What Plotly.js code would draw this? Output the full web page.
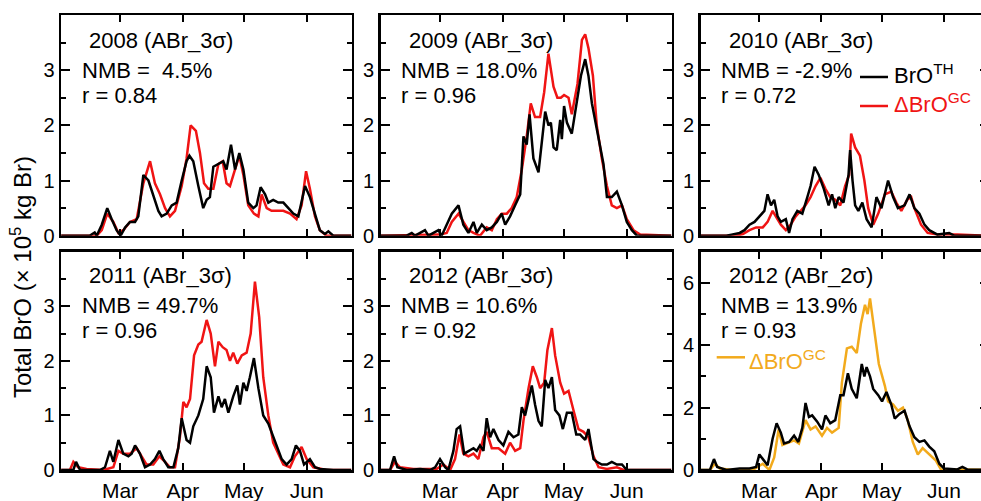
<!DOCTYPE html>
<html>
<head>
<meta charset="utf-8">
<script src="https://cdn.plot.ly/plotly-3.0.1.min.js"></script>
<style>
html,body{margin:0;padding:0;overflow:hidden;background:#fff;}
#chart{width:992px;height:501px;}
</style>
</head>
<body>
<div id="chart"></div>
<script>
// x values: day of year (Feb 1 = 32, Mar 1 = 60, Apr 1 = 91, May 1 = 121, Jun 1 = 152)
const monthLabels = ['Mar', 'Apr', 'May', 'Jun'];
const monthDoy = [60, 91, 121, 152];

// 2008 (ABr_3σ)
const x2008th = [31,45,47.5,48.5,51,53.7,55.9,58.3,60.3,62.5,64.9,67.4,69,71.5,74,76.4,78.9,80.5,83,85.5,87.9,90.4,92.8,94.2,96.1,98.6,101,102.7,104.3,106,108.5,110.9,112.5,114.7,116.7,118.8,120.8,123.2,125.7,127.3,129.3,131.5,133.1,135.5,138,140.5,143,145.4,147.9,151.2,153.6,156.1,158.5,161,162.7,165.1,174];
const y2008th = [0,0,0.06,0,0.2,0.5,0.3,0.1,0,0.15,0.25,0.25,0.35,1.1,1.0,0.75,0.45,0.35,0.4,0.55,0.6,1.0,1.35,1.45,1.35,0.9,0.5,0.65,0.7,1.25,1.3,1.35,1.2,1.65,1.2,1.5,1.2,0.6,0.5,0.55,0.88,0.75,0.6,0.65,0.6,0.6,0.5,0.4,0.35,0.9,0.7,0.4,0.1,0.03,0.08,0,0];
const x2008gc = [31,48.5,51,53.7,56.7,59.2,61.6,64.9,68.2,71.5,74.8,77.2,79.7,82.2,84.6,87.1,90.4,92.8,94.8,97.4,99.4,101.4,103.5,106,108.5,110.6,112.5,114.2,116.7,118.8,120.8,123.2,126,128.2,129.8,132.3,134.7,137.2,140.5,143.8,147,149.5,151.7,153.6,156.1,158.5,161.8,174];
const y2008gc = [0,0,0.1,0.4,0.25,0.05,0.1,0.25,0.3,0.95,1.35,0.95,0.75,0.5,0.35,0.45,0.9,1.4,2.0,1.9,1.5,0.95,0.85,0.85,1.3,1.35,0.95,0.9,1.2,1.45,1.1,0.55,0.4,0.35,0.75,0.5,0.45,0.45,0.45,0.4,0.3,0.55,1.17,0.85,0.35,0.1,0,0];

// 2009 (ABr_3σ)
const x2009th = [31,43.7,46.2,47.8,50.3,52.7,54.4,56.8,59.3,60.9,63.4,65.9,69.2,71.6,74.1,76.6,78.2,80.7,83.1,85.6,88.1,90.5,92.2,94.6,97.1,99.6,101.2,102.8,104.2,106.1,108.6,110.2,111.9,113.5,114.7,116,117.6,119.3,120.1,121.2,122.6,125,127.5,129.5,131.6,133.2,134.9,137,139,140.6,142.3,144.7,147.2,149.7,152.1,154.6,157.1,174];
const y2009th = [0,0,0.05,0,0.05,0.1,0,0.05,0.1,0,0.2,0.4,0.55,0.2,0.05,0.25,0.05,0.2,0.1,0.15,0.25,0.4,0.2,0.35,0.55,0.75,1.8,1.65,2.2,1.4,1.15,1.7,2.25,2.0,2.05,1.6,1.55,2.1,1.75,2.35,2.05,1.85,2.4,2.9,3.2,2.9,2.4,2.0,1.55,1.3,0.7,0.7,0.8,0.55,0.25,0.1,0,0];
const x2009gc = [31,60.1,63.4,65.9,69.2,71.6,74.1,76.6,79.8,83.1,85.6,88.1,90.5,93,95.4,97.9,100.4,102.8,104.8,106.9,109.4,111.4,113.5,116,117.9,119.6,121.2,123.4,125,127.8,130,131.6,133.2,135.4,137.3,139.8,142.3,144.7,147.2,149.7,152.1,155.4,158.7,174];
const y2009gc = [0,0.02,0.05,0.25,0.4,0.25,0.1,0.05,0,0.15,0.1,0.3,0.4,0.4,0.5,0.7,1.2,1.8,2.4,2.15,2.15,2.6,3.3,2.7,2.5,2.5,2.55,2.5,2.2,2.75,3.55,3.65,3.4,2.9,2.0,1.4,0.9,0.55,0.5,0.55,0.3,0.1,0.02,0];

// 2010 (ABr_3σ)
const x2010th = [31,43.7,46.2,50.3,52.7,55.2,57.7,60.1,62.6,64.2,65.9,67.5,69.2,70.8,73.3,74.9,76.6,79,81.5,84,85.6,87.6,89.7,92.2,94.6,96.3,97.9,99.6,102,104.5,105.3,106.5,107.8,109.4,111.4,113.5,116,118.4,120.9,124.2,126.7,129.1,132.4,134.9,137.3,139.8,142.3,144.7,148.8,154.6,157.1,174];
const y2010th = [0,0,0.02,0.05,0.1,0.2,0.25,0.35,0.45,0.75,0.55,0.65,0.35,0.25,0.3,0.05,0.3,0.45,0.4,0.7,0.9,1.25,1.1,0.85,0.55,0.75,0.5,0.7,0.6,1.1,1.55,1.0,0.55,0.45,0.6,0.3,0.15,0.7,0.5,1.0,0.7,0.5,0.55,0.75,0.5,0.4,0.2,0.1,0.02,0.05,0,0];
const x2010gc = [31,48.6,51.9,55.2,58.5,61.8,64.2,66.7,68.3,70.8,73.3,75.7,78.2,80.7,83.1,85.6,88.1,90.5,93,95.4,97.9,100.4,102.8,104.8,105.8,107.8,110.2,112.4,114.3,116.8,119.3,122.6,125.8,128.3,130.8,133.7,135.7,137.3,140.6,143.9,148.8,158.7,174];
const y2010gc = [0,0,0.03,0.1,0.15,0.15,0.25,0.45,0.35,0.2,0.1,0.2,0.35,0.45,0.55,0.7,0.9,1.05,0.85,0.7,0.65,0.55,0.9,1.1,1.85,1.6,1.45,1.0,0.5,0.2,0.4,0.75,0.8,0.6,0.45,0.65,0.7,0.5,0.2,0.05,0.02,0.02,0];

// 2011 (ABr_3σ)
const x2011th = [31,35.3,37,38.3,40.3,50.1,52.6,55,56.7,59.2,61.6,64.1,65.7,67.4,69.8,72.3,74.8,77.2,79.4,81.3,83.8,86.3,88.7,90.4,91.5,92.8,94.5,96.1,98.6,101,102.7,104.7,106.3,108.5,110.1,111.7,113.4,115.8,117.8,119.1,120.8,122.4,124,126,128.2,130.6,133.1,135.5,137.2,139.7,142.1,144.6,146.7,148.7,150.7,153.6,156.1,158.5,165.1,174];
const y2011th = [0,0,0,0.15,0,0,0.05,0.35,0.15,0.55,0.3,0.25,0.3,0.45,0.3,0.05,0.1,0.2,0.35,0.2,0.05,0.05,0.4,0.95,0.75,0.55,0.5,0.8,1.0,1.3,1.9,1.7,1.05,1.35,1.15,1.3,1.05,1.35,1.55,1.2,1.6,1.45,1.7,2.05,1.5,1.0,0.85,0.6,0.45,0.2,0.1,0.2,0.45,0.35,0.1,0.2,0.05,0.02,0,0];
const x2011gc = [31,35.3,37,39.4,43.5,51.8,56.7,59.2,61.6,64.9,68.2,70.7,73.1,76.4,79.4,82.2,84.6,87.1,89.5,91.2,92.8,94.5,96.5,98.6,100.2,102.7,104.7,106.8,108.5,110.6,112.5,114.2,115.8,117.8,120,122.4,124.4,126.5,128.6,130.6,133.1,135.5,138,140.5,143.8,146.2,149.5,152,155.3,161.8,174];
const y2011gc = [0,0,0.15,0.05,0.02,0,0.05,0.35,0.3,0.3,0.4,0.25,0.1,0.1,0.25,0.15,0.05,0.05,0.6,1.25,1.15,1.3,2.1,2.3,2.35,2.75,2.5,1.9,2.35,2.25,2.2,2.0,2.15,1.95,2.1,2.15,2.5,3.45,2.8,1.7,1.0,0.5,0.3,0.1,0.05,0.25,0.42,0.2,0.05,0,0];

// 2012 (ABr_3σ)
const x2012th = [31,35.5,37.5,39.1,43.7,50.3,55.2,57.7,60.1,62.6,64.2,66.7,68.3,70,72,74.1,76.6,78.2,79.8,81.5,83.1,84.8,86.4,88.9,91.3,93.8,96.3,98.7,100.4,102,103.7,105.3,106.9,108.6,110.2,111.9,113.5,115.2,116.8,118.9,120.6,122.6,125,127.2,129.1,131.6,133.2,135.7,137.3,139.8,142.3,144.7,147.2,149.7,152.1,174];
const y2012th = [0,0,0.25,0.05,0,0.02,0,0.05,0.2,0.05,0,0.35,0.75,0.8,0.3,0.35,0.4,0.35,0.45,0.35,0.95,0.6,0.75,0.55,0.45,0.7,0.6,0.65,1.15,1.0,1.3,1.55,1.2,0.9,0.8,1.65,1.5,1.7,1.1,1.0,0.75,1.05,1.05,0.65,0.65,0.55,0.75,0.2,0.15,0.1,0.1,0.15,0.1,0.1,0,0];
const x2012gc = [31,35.5,37.9,40.4,47,58.5,61.8,65.1,67.5,69.7,71.6,74.1,76.6,79,81.5,83.1,85.6,88.9,92.2,94.6,97.1,99.6,101.2,103.7,105.8,107.8,109.4,111.4,113,115.2,116.8,119.3,121.2,123.4,125.8,128.3,130.8,133.2,135.7,138.2,142.3,147.2,150.5,174];
const y2012gc = [0,0,0.15,0.05,0.02,0.02,0.1,0,0.2,0.65,0.3,0.25,0.3,0.2,0.6,0.7,0.4,0.4,0.3,0.5,0.35,0.4,0.9,1.5,1.9,1.7,1.5,1.6,2.2,2.6,2.1,1.6,1.4,1.45,1.1,0.75,0.7,0.6,0.25,0.05,0.02,0.05,0,0];

// 2012 (ABr_2σ)
const x2012th2 = [31,35.5,37.5,39.1,43.7,50.3,55.2,58.5,60.1,62.6,64.2,66.7,68.7,70.8,72.4,74.9,77.4,79.5,81.5,83.1,84.8,86.4,88.9,91.3,93,95.4,97.9,100.4,102,104.2,106.1,108.6,111.1,112.4,113.5,115.2,116.8,119.3,121.2,123.4,125.8,127.5,129.9,132.4,134.9,137.3,139.8,142.3,144.7,147.2,149.7,152.1,158.7,161.2,163.6,174];
const y2012th2 = [0,0,0.35,0.1,0,0.05,0.05,0.1,0.5,0.3,0.15,1.0,1.5,1.2,0.85,0.9,1.1,0.9,1.35,2.15,1.7,1.75,1.55,1.3,1.75,1.5,1.6,2.4,2.4,3.1,2.6,2.3,3.4,3.0,3.3,3.0,2.6,2.4,2.2,2.5,2.1,1.65,1.8,1.9,1.4,1.05,0.9,0.95,0.75,0.6,0.2,0.05,0.02,0.1,0.02,0];
const x2012gc2 = [31,35.5,38,40.4,47,56.8,61.8,65.1,67.5,69.7,71.6,74.9,77.4,79.8,81.5,83.1,85.6,88.1,91.3,93.8,96.3,99.6,101.2,103.7,106.1,108.6,110.7,112.7,114,115.2,117.3,119.6,122.6,124.2,126.7,129.1,131.6,134,136.5,139,141.4,144.7,148,150.5,153.8,158.7,174];
const y2012gc2 = [0,0,0.2,0.05,0,0,0.2,0,0.4,1.3,0.8,0.9,0.95,0.85,1.2,1.6,1.3,1.4,1.1,1.35,1.2,1.35,2.8,3.9,3.95,3.75,4.7,5.3,5.0,5.5,4.5,3.4,2.7,2.2,2.1,1.9,2.0,1.6,0.9,0.5,0.7,0.5,0.3,0.02,0,0.02,0];

const panelYears = ['2008 (ABr_3σ)', '2009 (ABr_3σ)', '2010 (ABr_3σ)', '2011 (ABr_3σ)', '2012 (ABr_3σ)', '2012 (ABr_2σ)'];
const panelNMB = ['NMB = \u00a04.5%', 'NMB = 18.0%', 'NMB = -2.9%', 'NMB = 49.7%', 'NMB = 10.6%', 'NMB = 13.9%'];
const panelR = ['r = 0.84', 'r = 0.96', 'r = 0.72', 'r = 0.96', 'r = 0.92', 'r = 0.93'];

const thX = [x2008th, x2009th, x2010th, x2011th, x2012th, x2012th2];
const thY = [y2008th, y2009th, y2010th, y2011th, y2012th, y2012th2];
const gcX = [x2008gc, x2009gc, x2010gc, x2011gc, x2012gc, x2012gc2];
const gcY = [y2008gc, y2009gc, y2010gc, y2011gc, y2012gc, y2012gc2];

const RED = '#f01414';
const ORANGE = '#f2aa1c';
const FONT = 'Liberation Sans, Arial, Helvetica, sans-serif';
const TXT = 22;

const W = 992, H = 501;
const colPx = [[61, 351.7], [380.7, 671.7], [700.7, 988.5]];
const rowPx = [[15, 235.7], [251.7, 470]];

const traces = [];
const layout = {
  width: W, height: H,
  margin: {l: 0, r: 0, t: 0, b: 0},
  paper_bgcolor: '#fff', plot_bgcolor: 'rgba(0,0,0,0)',
  showlegend: false,
  font: {family: FONT, color: '#000', size: 20},
  annotations: [], shapes: []
};

for (let i = 0; i < 6; i++) {
  const col = i % 3, row = Math.floor(i / 3);
  const n = i + 1;
  const xa = 'x' + (n === 1 ? '' : n), ya = 'y' + (n === 1 ? '' : n);
  const gcColor = i === 5 ? ORANGE : RED;
  traces.push({x: gcX[i], y: gcY[i], xaxis: xa, yaxis: ya, mode: 'lines',
    line: {color: gcColor, width: 2.5}, hoverinfo: 'skip'});
  traces.push({x: thX[i], y: thY[i], xaxis: xa, yaxis: ya, mode: 'lines',
    line: {color: '#000', width: 2.5}, hoverinfo: 'skip'});

  const xd = [colPx[col][0] / W, colPx[col][1] / W];
  const yd = [1 - rowPx[row][1] / H, 1 - rowPx[row][0] / H];
  const big = (i === 5);
  layout['xaxis' + (n === 1 ? '' : n)] = {
    domain: xd, anchor: ya, range: [30.9, 174.2],
    tickmode: 'array', tickvals: monthDoy, ticktext: monthLabels,
    ticks: 'inside', ticklen: 7, tickwidth: 2, tickcolor: '#000',
    showline: true, linewidth: 2.5, linecolor: '#000', mirror: 'ticks',
    showgrid: false, zeroline: false, fixedrange: true,
    showticklabels: row === 1,
    tickfont: {family: FONT, size: 21, color: '#000'}
  };
  layout['yaxis' + (n === 1 ? '' : n)] = {
    domain: yd, anchor: xa, range: big ? [0, 7] : [0, 4],
    tickmode: 'array', tickvals: big ? [0, 2, 4, 6] : [0, 1, 2, 3],
    ticks: 'inside', ticklen: 9, tickwidth: 2, tickcolor: '#000',
    minor: {tickmode: 'array', tickvals: big ? [1, 3, 5] : [0.5, 1.5, 2.5, 3.5],
      ticks: 'inside', ticklen: 5, tickwidth: 2, tickcolor: '#000', showgrid: false},
    showline: true, linewidth: 2.5, linecolor: '#000', mirror: 'ticks',
    showgrid: false, zeroline: false, fixedrange: true,
    tickfont: {family: FONT, size: 20, color: '#000'}
  };

  const left = colPx[col][0];
  const dy = row === 0 ? 0 : 235;
  const ann = (text, xpx, ypx, color) => ({
    text: text, x: xpx / W, y: 1 - ypx / H, xref: 'paper', yref: 'paper',
    xanchor: 'left', yanchor: 'middle', showarrow: false,
    font: {family: FONT, size: TXT, color: color || '#000'}
  });
  layout.annotations.push(ann(panelYears[i], left + 26, 40 + dy));
  layout.annotations.push(ann(panelNMB[i], left + 18.5, 70 + dy));
  layout.annotations.push(ann(panelR[i], left + 18.5, 95 + dy));
}

// legends
const legLine = (x0, x1, ypx, color) => ({type: 'line', xref: 'paper', yref: 'paper',
  x0: x0 / W, x1: x1 / W, y0: 1 - ypx / H, y1: 1 - ypx / H, line: {color: color, width: 2.5}});
const legText = (text, xpx, ypx, color) => ({text: text, x: xpx / W, y: 1 - ypx / H,
  xref: 'paper', yref: 'paper', xanchor: 'left', yanchor: 'middle', showarrow: false,
  font: {family: FONT, size: TXT, color: color}});
layout.shapes.push(legLine(860, 888, 77, '#000'));
layout.shapes.push(legLine(860, 888, 106, RED));
layout.shapes.push(legLine(716.7, 745, 357.3, ORANGE));
layout.annotations.push(legText('BrO<sup>TH</sup>', 892, 74, '#000'));
layout.annotations.push(legText('ΔBrO<sup>GC</sup>', 892, 103, RED));
layout.annotations.push(legText('ΔBrO<sup>GC</sup>', 747, 360, ORANGE));

// y axis title
layout.annotations.push({text: 'Total BrO (× 10<sup>5</sup> kg Br)', x: 21 / W, y: 1 - 277 / H,
  xref: 'paper', yref: 'paper', xanchor: 'center', yanchor: 'middle', textangle: -90,
  showarrow: false, font: {family: FONT, size: 24, color: '#000'}});

Plotly.newPlot('chart', traces, layout, {staticPlot: true, displayModeBar: false});
</script>
</body>
</html>
